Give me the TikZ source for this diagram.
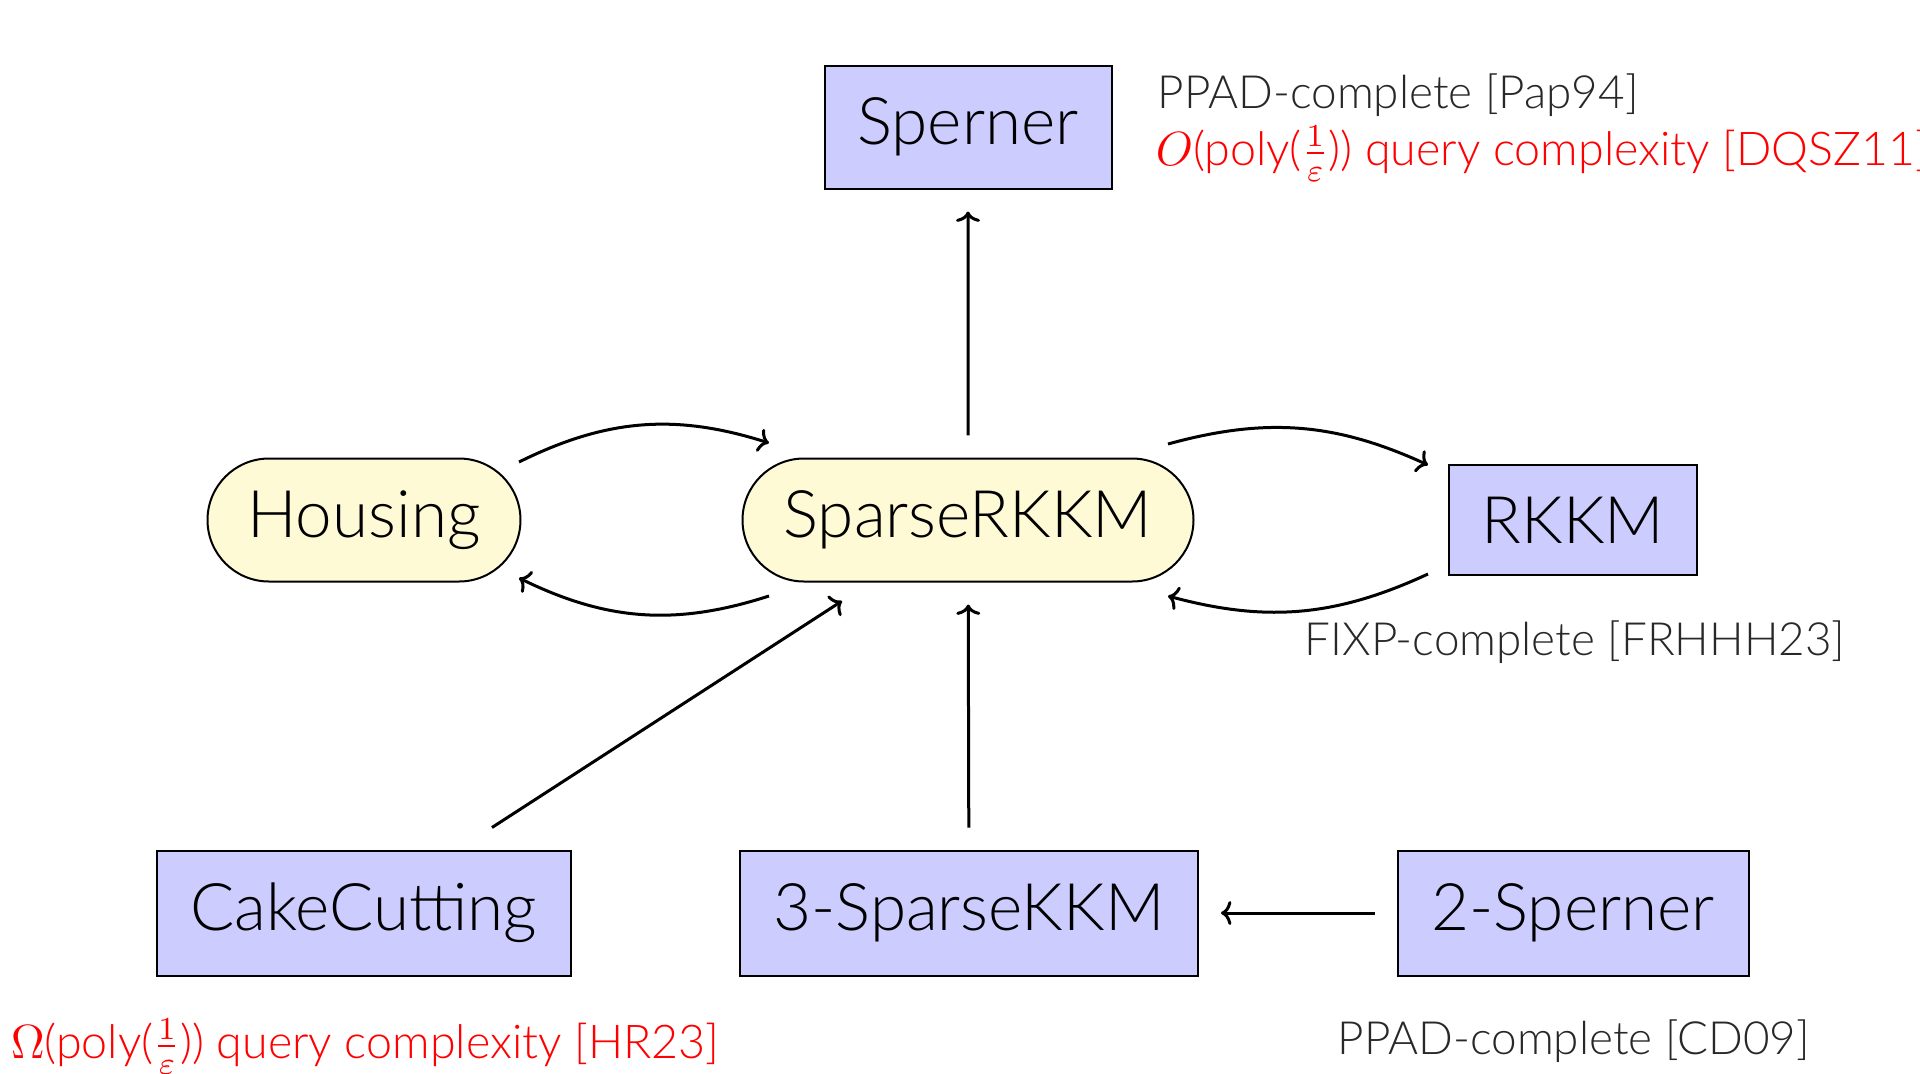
\documentclass[tikz,border=0pt]{standalone}
\usepackage{amsmath}
\usepackage{amssymb}
\usepackage{fontspec}
\setmainfont{Lato}[UprightFont=* Light,ItalicFont=* Light Italic]
\usetikzlibrary{arrows.meta,shapes.misc}

\definecolor{boxblue}{RGB}{204,204,255}
\definecolor{boxyellow}{RGB}{255,250,214}
\definecolor{notegray}{RGB}{40,40,40}

\tikzset{
  probbox/.style={draw=black,line width=0.5pt,fill=boxblue,inner sep=0pt,
    font=\fontsize{16.4}{19}\selectfont},
  probround/.style={probbox,fill=boxyellow,rounded rectangle},
  redarrow/.style={->,>={To[length=2.6pt,width=6pt]},line width=0.75pt,
    shorten <=5.5pt,shorten >=5.5pt},
  bendarrow/.style={redarrow,shorten <=0pt,shorten >=0pt},
  note/.style={anchor=base west,inner sep=0pt,text=notegray,
    font=\fontsize{11.45}{13}\selectfont},
  rednote/.style={note,text=red,font=\fontsize{11.65}{13}\selectfont}
}

\begin{document}
\begin{tikzpicture}[x=0.25pt,y=0.25pt,yscale=-1,xscale=1]
                \useasboundingbox (0,0) rectangle (1920,1073);
                % problems
                \node [probbox,minimum width=0.25pt*287,minimum height=0.25pt*123] (sp) at (968,127) {Sperner};
                \node [probround,minimum width=0.25pt*313,minimum height=0.25pt*123] (hs) at (364,520) {Housing};
                \node [probround,minimum width=0.25pt*451,minimum height=0.25pt*123] (srk) at (968,520) {SparseRKKM};
                \node [probbox,minimum width=0.25pt*248,minimum height=0.25pt*110] (rk) at (1573,520) {RKKM};
                \node [probbox,minimum width=0.25pt*414,minimum height=0.25pt*125] (cc) at (364,913) {CakeCutting};
                \node [probbox,minimum width=0.25pt*458,minimum height=0.25pt*125] (sk) at (969,913) {3-SparseKKM};
                \node [probbox,minimum width=0.25pt*351,minimum height=0.25pt*125] (ts) at (1573,913) {2-Sperner};
                % reductions
                \draw [redarrow] (srk) -- (sp);
                \draw [bendarrow] ([shift={(155,-58)}]hs.center) to [bend right=22] ([shift={(-199,-77)}]srk.center);
                \draw [bendarrow] ([shift={(-199,76)}]srk.center) to [bend right=22] ([shift={(155,58)}]hs.center);
                \draw [bendarrow] ([shift={(200,-76)}]srk.center) to [bend right=20] ([shift={(-145,-55)}]rk.center);
                \draw [bendarrow] ([shift={(-145,54)}]rk.center) to [bend right=20] ([shift={(200,76)}]srk.center);
                \draw [bendarrow] ([shift={(128,-22)}]cc.north) -- ([shift={(-126,81)}]srk.center);
                \draw [redarrow] (sk) -- (srk);
                \draw [redarrow] (ts) -- (sk);
                % complexity notes
                \node [note] (n1) at (1157,108) {PPAD-complete [Pap94]};
                \node [rednote] (n2) at (1155,165) {$O$(poly($\frac{1}{\varepsilon}$)) query complexity [DQSZ11]};
                \node [note] (n3) at (1304,655) {FIXP-complete [FRHHH23]};
                \node [rednote] (n4) at (10,1058) {$\Omega$(poly($\frac{1}{\varepsilon}$)) query complexity [HR23]};
                \node [note] (n5) at (1337,1054) {PPAD-complete [CD09]};
            \end{tikzpicture}
\end{document}
